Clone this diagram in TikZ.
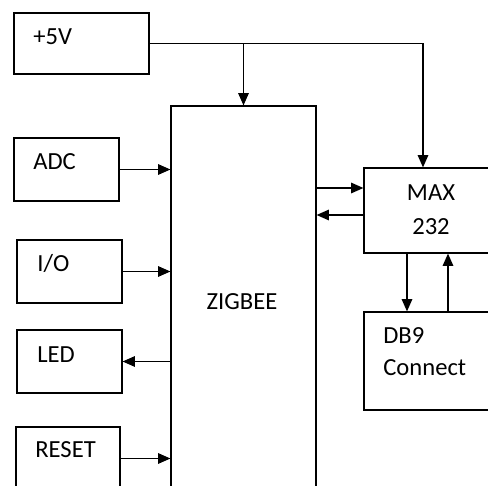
\documentclass[tikz,border=0pt]{standalone}
\usepackage{fontspec}
\setmainfont{Carlito}
\usepackage{tikz}
\usetikzlibrary{arrows.meta}
\tikzset{
    block/.style={rectangle, draw=black, line width=0.7pt, inner sep=0pt},
    lbl/.style={font=\fontsize{14}{17}\selectfont, inner sep=0pt},
    arrow/.style={line width=0.7pt, ->, >={Triangle[length=7pt, width=6pt]}}
}

\begin{document}
\begin{tikzpicture}[x=0.02cm, y=-0.02cm]
    \useasboundingbox (0,0) rectangle (488,486);
    % blocks
    \node (pwr) [block, minimum width=2.7cm, minimum height=1.22cm] at (81.5,43.5) {};
    \node (adc) [block, minimum width=2.1cm, minimum height=1.26cm] at (66.5,169.5) {};
    \node (io) [block, minimum width=2.1cm, minimum height=1.26cm] at (69.5,271.5) {};
    \node (led) [block, minimum width=2.1cm, minimum height=1.26cm] at (69.5,361.5) {};
    \node (rst) [block, minimum width=2.08cm, minimum height=1.26cm] at (68,458.5) {};
    \node (zig) [block, minimum width=2.9cm, minimum height=8.28cm] at (243.5,313) {};
    \node (max) [block, minimum width=2.72cm, minimum height=1.7cm] at (432,210.5) {};
    \node (db9) [block, minimum width=2.72cm, minimum height=1.96cm] at (432,361) {};
    % texts
    \node (pwrt) [lbl, anchor=west] at (33,37) {+5V};
    \node (adct) [lbl, anchor=west] at (33,162) {ADC};
    \node (iot) [lbl, anchor=west] at (37,263) {I/O};
    \node (ledt) [lbl, anchor=west] at (37,355) {LED};
    \node (rstt) [lbl, anchor=west] at (35,450) {RESET};
    \node (zigt) [lbl] at (242,302) {ZIGBEE};
    \node (maxt) [lbl] at (431,193) {MAX};
    \node (maxn) [lbl] at (431,227) {232};
    \node (db9t) [lbl, anchor=west] at (383,336) {DB9};
    \node (db9c) [lbl, anchor=west] at (383,368) {Connect};
    % connections
    \coordinate (tap) at (zig.north |- pwr.east);
    \draw [arrow] (pwr.east) -| ([xshift=-0.18cm]max.north);
    \draw [arrow] (tap) -- (zig.north);
    \draw [arrow] (adc.east) -- (adc.east -| zig.west);
    \draw [arrow] (io.east) -- (io.east -| zig.west);
    \draw [arrow] (led.east -| zig.west) -- (led.east);
    \draw [arrow] (rst.east) -- (rst.east -| zig.west);
    \draw [arrow] ([yshift=0.45cm]max.west -| zig.east) -- ([yshift=0.45cm]max.west);
    \draw [arrow] ([yshift=-0.09cm]max.west) -- ([yshift=-0.09cm]max.west -| zig.east);
    \draw [arrow] ([xshift=-0.5cm]max.south) -- ([xshift=-0.5cm]max.south |- db9.north);
    \draw [arrow] ([xshift=0.32cm]db9.north) -- ([xshift=0.32cm]db9.north |- max.south);
\end{tikzpicture}
\end{document}
